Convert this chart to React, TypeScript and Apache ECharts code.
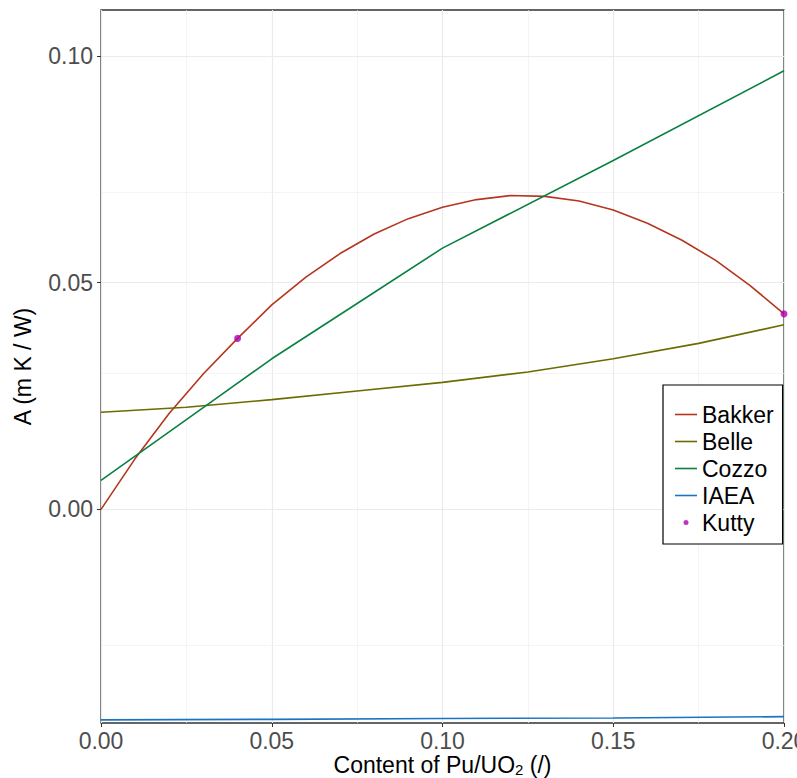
import React, { useEffect, useRef } from 'react';
import * as echarts from 'echarts';

const FONT = '"Liberation Sans", Arial, Helvetica, sans-serif';

// Bakker
const bakkerX = [0, 0.01, 0.02, 0.03, 0.04, 0.05, 0.06, 0.07, 0.08, 0.09, 0.1, 0.11, 0.12, 0.13, 0.14, 0.15, 0.16, 0.17, 0.18, 0.19, 0.2];
const bakkerY = [0, 0.0112, 0.0212, 0.0299, 0.0377, 0.0451, 0.0512, 0.0564, 0.0607, 0.0641, 0.0666, 0.0683, 0.0692, 0.069, 0.068, 0.066, 0.0631, 0.0594, 0.0549, 0.0494, 0.0431];
// Belle
const belleX = [0, 0.025, 0.05, 0.075, 0.1, 0.125, 0.15, 0.175, 0.2];
const belleY = [0.0214, 0.0225, 0.0242, 0.0261, 0.028, 0.0303, 0.0332, 0.0366, 0.0407];
// Cozzo
const cozzoX = [0, 0.025, 0.05, 0.075, 0.1, 0.15, 0.2];
const cozzoY = [0.0064, 0.0198, 0.0332, 0.0454, 0.0576, 0.0769, 0.0967];
// IAEA
const iaeaX = [0, 0.05, 0.1, 0.15, 0.2];
const iaeaY = [-0.0464, -0.0463, -0.0461, -0.046, -0.0457];
// Kutty
const kuttyX = [0.04, 0.2];
const kuttyY = [0.0377, 0.0431];

const yTicks = [0, 0.05, 0.1];
const yMinorGrid = [-0.025, 0.025, 0.075];

const Y_MIN = -0.0471;
const Y_MAX = 0.1101;

const colors = {
  Bakker: '#B5351F',
  Belle: '#6B6B00',
  Cozzo: '#0A8042',
  IAEA: '#1B74C2',
  Kutty: '#B000B0',
};

const LINE_ICON = 'path://M0,0M22,14M0,6.2h22v1.6h-22z';
const DOT_ICON = 'path://M0,0M22,14M8.5,7a2.5,2.5 0 1,0 5,0a2.5,2.5 0 1,0 -5,0';

const zip = (xs: number[], ys: number[]) => xs.map((x, i) => [x, ys[i]]);

export default function App() {
  const ref = useRef<HTMLDivElement>(null);
  useEffect(() => {
    const chart = echarts.init(ref.current!, null, { renderer: 'svg' });
    const lineSeries = (name: string, xs: number[], ys: number[]) => ({
      name,
      type: 'line',
      data: zip(xs, ys),
      symbol: 'none',
      smooth: false,
      lineStyle: { color: (colors as any)[name], width: 1.6 },
      itemStyle: { color: (colors as any)[name] },
      z: 3,
    });
    const gridLines = [
      ...yTicks.map((v) => ({ yAxis: v, lineStyle: { color: '#EBEBEB', width: 1.2, type: 'solid' } })),
      ...yMinorGrid.map((v) => ({ yAxis: v, lineStyle: { color: '#EFEFEF', width: 0.7, type: 'solid' } })),
    ];
    chart.setOption({
      animation: false,
      backgroundColor: '#fff',
      textStyle: { fontFamily: FONT },
      grid: {
        left: 101,
        right: 13,
        top: 10,
        bottom: 55,
        show: true,
        borderColor: '#333333',
        borderWidth: 1.3,
        backgroundColor: '#fff',
        containLabel: false,
        outerBoundsMode: 'none',
      },
      xAxis: {
        type: 'value',
        min: 0,
        max: 0.2,
        interval: 0.05,
        name: '{a|Content of Pu/UO}{b|2}{a| (/)}',
        nameLocation: 'middle',
        nameGap: 30,
        nameMoveOverlap: false,
        nameTextStyle: {
          color: '#000',
          fontFamily: FONT,
          fontSize: 23,
          rich: {
            a: { fontSize: 23, lineHeight: 24, color: '#000', fontFamily: FONT },
            b: { fontSize: 15, lineHeight: 10, verticalAlign: 'bottom', color: '#000', fontFamily: FONT },
          },
        },
        axisLine: { show: false, onZero: false },
        axisTick: { show: true, length: 4, inside: false, lineStyle: { color: '#333333', width: 1 } },
        axisLabel: {
          show: true,
          margin: 6,
          fontSize: 23,
          color: '#4D4D4D',
          fontFamily: FONT,
          formatter: (v: number) => v.toFixed(2),
          showMinLabel: true,
          showMaxLabel: true,
          hideOverlap: false,
        },
        splitLine: { show: true, lineStyle: { color: '#EBEBEB', width: 1.2 } },
        minorTick: { show: false, splitNumber: 2 },
        minorSplitLine: { show: true, lineStyle: { color: '#EFEFEF', width: 0.7 } },
      },
      yAxis: {
        type: 'value',
        min: Y_MIN,
        max: Y_MAX,
        name: 'A (m K / W)',
        nameLocation: 'middle',
        nameGap: 67,
        nameTextStyle: { color: '#000', fontFamily: FONT, fontSize: 23 },
        axisLine: { show: false, onZero: false },
        axisTick: { show: true, length: 4, inside: false, customValues: yTicks, lineStyle: { color: '#333333', width: 1 } },
        axisLabel: {
          show: true,
          margin: 8,
          fontSize: 23,
          color: '#4D4D4D',
          fontFamily: FONT,
          customValues: yTicks,
          formatter: (v: number) => v.toFixed(2),
        },
        splitLine: { show: false },
      },
      legend: {
        orient: 'vertical',
        left: 663,
        top: 385,
        padding: [18, 9, 10, 12],
        itemGap: 4,
        itemWidth: 22,
        itemHeight: 14,
        backgroundColor: '#fff',
        borderColor: '#000',
        borderWidth: 1.2,
        borderRadius: 0,
        textStyle: { fontSize: 23, lineHeight: 23, color: '#000', fontFamily: FONT },
        data: [
          { name: 'Bakker', icon: LINE_ICON },
          { name: 'Belle', icon: LINE_ICON },
          { name: 'Cozzo', icon: LINE_ICON },
          { name: 'IAEA', icon: LINE_ICON },
          { name: 'Kutty', icon: DOT_ICON },
        ],
      },
      series: [
        {
          name: '_grid',
          type: 'line',
          data: [],
          silent: true,
          z: 1,
          markLine: {
            silent: true,
            symbol: ['none', 'none'],
            label: { show: false },
            z: 1,
            animation: false,
            data: gridLines,
          },
        },
        lineSeries('Bakker', bakkerX, bakkerY),
        lineSeries('Belle', belleX, belleY),
        lineSeries('Cozzo', cozzoX, cozzoY),
        lineSeries('IAEA', iaeaX, iaeaY),
        {
          name: 'Kutty',
          type: 'scatter',
          data: zip(kuttyX, kuttyY),
          symbol: 'circle',
          symbolSize: 7,
          itemStyle: { color: colors.Kutty },
          clip: true,
          z: 4,
        },
      ],
    });
    return () => chart.dispose();
  }, []);
  return (
    <div
      ref={ref}
      style={{ position: 'fixed', left: 0, top: 0, width: 797, height: 778, overflow: 'hidden' }}
    />
  );
}
